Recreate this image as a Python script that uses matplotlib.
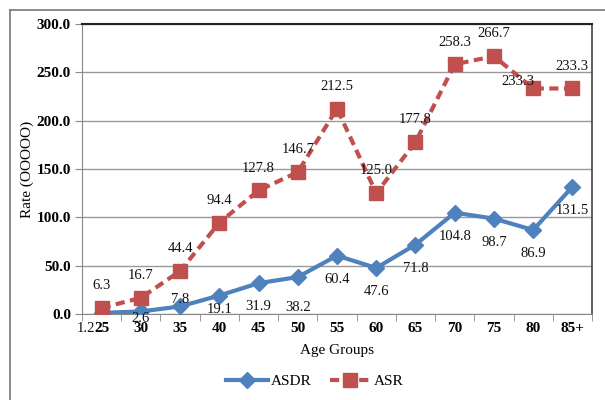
import matplotlib
matplotlib.use("Agg")
import matplotlib.pyplot as plt
from matplotlib.lines import Line2D
import numpy as np

age_groups = ["25", "30", "35", "40", "45", "50", "55", "60", "65", "70", "75", "80", "85+"]
asdr = [1.2, 2.6, 7.8, 19.1, 31.9, 38.2, 60.4, 47.6, 71.8, 104.8, 98.7, 86.9, 131.5]
asr = [6.3, 16.7, 44.4, 94.4, 127.8, 146.7, 212.5, 125.0, 177.8, 258.3, 266.7, 233.3, 233.3]

plt.rcParams['font.family'] = ['Liberation Serif', 'DejaVu Serif']

W, H = 605, 400
fig = plt.figure(figsize=(W / 100, H / 100), dpi=100)
ax = fig.add_axes([82 / W, 1 - 314 / H, (592 - 82) / W, (314 - 24) / H])

blue = '#4F81BD'
red = '#C0504D'
x = np.arange(len(age_groups))

ax.plot(x, asdr, color=blue, lw=3, marker='D', ms=8, label='ASDR', zorder=3)
ax.plot(x, asr, color=red, lw=3, ls=(0, (2.2, 1.3)), marker='s', ms=9.5, label='ASR', zorder=3)

ax.set_xlim(-0.5, len(age_groups) - 0.5)
ax.set_ylim(0, 300)
ax.set_yticks(np.arange(0, 301, 50))
ax.set_yticklabels([f"{v:.1f}" for v in np.arange(0, 301, 50)], fontsize=11, fontweight='bold')
ax.set_xticks(x)
ax.set_xticklabels(age_groups, fontsize=11, fontweight='bold')
ax.set_xticks(np.arange(-0.5, len(age_groups), 1), minor=True)
ax.tick_params(axis='x', which='major', length=0, pad=6)
ax.tick_params(axis='x', which='minor', length=5, color='#888888', direction='out')
ax.tick_params(axis='y', length=5, color='#888888', direction='out', pad=3)
ax.grid(axis='y', color='#999999', lw=1)
ax.set_axisbelow(True)
for s in ['left', 'bottom']:
    ax.spines[s].set_color('#888888')
ax.spines['top'].set_color('#222222')
ax.spines['top'].set_linewidth(1.5)
ax.spines['right'].set_color('#444444')
ax.spines['right'].set_linewidth(1.2)

# data labels (offsets in points)
asdr_off = [(-11, -11), (0, -5), (0, 5), (0, -10), (0, -17), (0, -22), (0, -17), (0, -17),
            (0, -17), (0, -17), (0, -17), (0, -17), (0, -17)]
for i, v in enumerate(asdr):
    dx, dy = asdr_off[i]
    ax.annotate(f"{v:.1f}", (x[i], v), xytext=(dx, dy), textcoords='offset points',
                ha='center', va='center', fontsize=10.5, color='#111111', zorder=4)
for i, v in enumerate(asr):
    dx, dy = (-11, 5) if i == 11 else (0, 16)
    ax.annotate(f"{v:.1f}", (x[i], v), xytext=(dx, dy), textcoords='offset points',
                ha='center', va='center', fontsize=10.5, color='#111111', zorder=4)

ax.set_ylabel("Rate (OOOOO)", fontsize=11, labelpad=2)
ax.set_xlabel("Age Groups", fontsize=11, labelpad=6)

leg = fig.legend(loc='center', bbox_to_anchor=(315 / W, 1 - 381 / H), ncol=2, frameon=False,
                 fontsize=11, handlelength=2.7, columnspacing=1.2, handletextpad=0.2)

fig.add_artist(Line2D([10 / W, 10 / W], [0, 1 - 10 / H], transform=fig.transFigure,
                      color='#777777', lw=1.2))
fig.add_artist(Line2D([10 / W, 1], [1 - 10 / H, 1 - 10 / H], transform=fig.transFigure,
                      color='#777777', lw=1.2))

fig.savefig("out.png", dpi=100)
